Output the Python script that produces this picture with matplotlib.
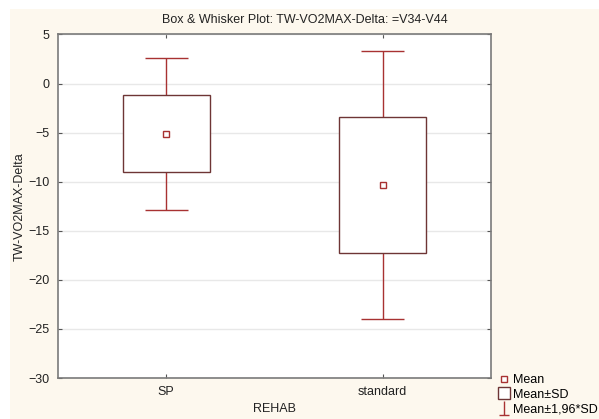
import matplotlib.pyplot as plt
from matplotlib.lines import Line2D
from matplotlib.path import Path
from matplotlib.patches import Rectangle

# values
groups = ["SP", "standard"]
means = [-5.1, -10.35]
sd_low = [-9.0, -17.3]
sd_high = [-1.15, -3.4]
ci_low = [-12.85, -24.0]
ci_high = [2.6, 3.3]
y_ticks = [5, 0, -5, -10, -15, -20, -25, -30]

box_col = "#6e3535"
whisk_col = "#a83232"
cream = "#fdf8ee"

plt.rcParams["font.family"] = ["Liberation Sans", "DejaVu Sans"]
plt.rcParams["font.size"] = 9

fig = plt.figure(figsize=(5.99, 4.19), dpi=100, facecolor="white")
fig.patches.append(Rectangle((10 / 599, 0), 1, 1 - 9 / 419, transform=fig.transFigure,
                             facecolor=cream, edgecolor="none", zorder=-10))

ax = fig.add_axes([58 / 599, 41 / 419, 433 / 599, 343.5 / 419])
ax.set_facecolor("white")

x = list(range(len(groups)))
for i in x:
    ax.vlines(i, ci_low[i], sd_low[i], color=whisk_col, lw=1, zorder=2)
    ax.vlines(i, sd_high[i], ci_high[i], color=whisk_col, lw=1, zorder=2)
    ax.hlines([ci_low[i], ci_high[i]], i - 0.1, i + 0.1, color=whisk_col, lw=1, zorder=2)

ax.bar(x, [h - l for h, l in zip(sd_high, sd_low)], bottom=sd_low, width=0.4,
       facecolor="white", edgecolor=box_col, linewidth=1, zorder=3)
ax.plot(x, means, linestyle="none", marker="s", markersize=4, markerfacecolor="white",
        markeredgecolor=whisk_col, markeredgewidth=1, zorder=4)

ax.set_xlim(-0.5, 1.5)
ax.set_ylim(-30, 5)
ax.set_xticks(x)
ax.set_xticklabels(groups)
ax.set_yticks(y_ticks)
ax.yaxis.grid(True, color="#e8e8e8", lw=1)
ax.set_axisbelow(True)
for s in ax.spines.values():
    s.set_color("#7a7a7a")
    s.set_linewidth(1.2)
ax.tick_params(direction="in", length=3, color="#555555", top=True, right=True,
               labelcolor="#222222", pad=6)

ax.set_xlabel("REHAB", labelpad=3, color="#222222")
ax.set_ylabel("TW-VO2MAX-Delta", labelpad=2, color="#222222")
fig.text(305 / 599, 1 - 20 / 419, "Box & Whisker Plot: TW-VO2MAX-Delta: =V34-V44",
         ha="center", va="center", color="#222222")

whisker_marker = Path([(0, 1), (0, -1), (-0.7, -1), (0.7, -1)],
                      [Path.MOVETO, Path.LINETO, Path.MOVETO, Path.LINETO])
handles = [
    Line2D([], [], linestyle="none", marker="s", markersize=4, markerfacecolor="white",
           markeredgecolor=whisk_col, markeredgewidth=1),
    Line2D([], [], linestyle="none", marker="s", markersize=9, markerfacecolor="white",
           markeredgecolor=box_col, markeredgewidth=1),
    Line2D([], [], linestyle="none", marker=whisker_marker, markersize=10,
           markeredgecolor=whisk_col, markeredgewidth=1),
]
fig.legend(handles, ["Mean", "Mean±SD", "Mean±1,96*SD"], loc="lower left",
           bbox_to_anchor=(490 / 599, -0.012), frameon=False, handlelength=0.8,
           handletextpad=0.3, labelspacing=0.2, borderpad=0.2)

fig.savefig("out.png", dpi=100, facecolor=fig.get_facecolor())
